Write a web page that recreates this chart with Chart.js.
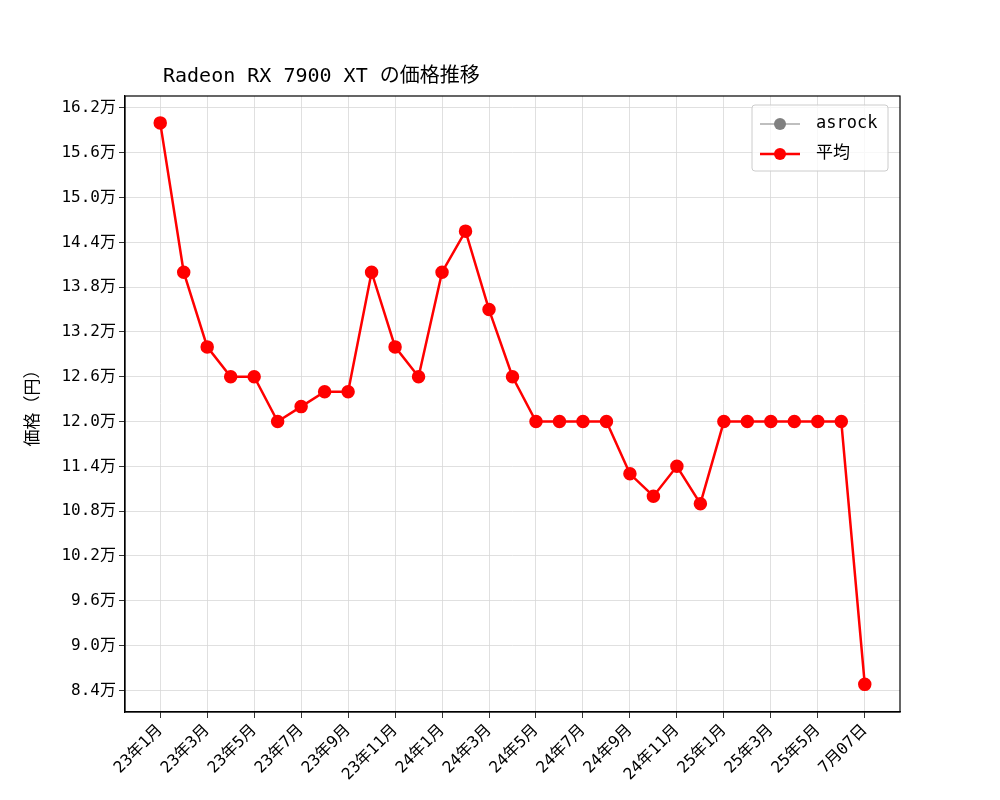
<!DOCTYPE html>
<html><head><meta charset="utf-8">
<script src="https://cdn.jsdelivr.net/npm/chart.js@4"></script>
<style>body{margin:0;background:#fff}</style>
</head><body>
<canvas id="c" width="1000" height="800"></canvas>
<script>
const tickLabels = ['23年1月','23年3月','23年5月','23年7月','23年9月','23年11月','24年1月','24年3月','24年5月','24年7月','24年9月','24年11月','25年1月','25年3月','25年5月','7月07日'];
const avgPrices = [160000,140000,130000,126000,126000,120000,122000,124000,124000,140000,130000,126000,140000,145500,135000,126000,
  120000,120000,120000,120000,113000,110000,114000,109000,120000,120000,120000,120000,120000,120000,84800];
const asrockPrices = [];
const FONT = '"DejaVu Sans Mono", "Noto Sans CJK JP", monospace';

// title, frame, y label and legend, matplotlib style
const extras = {
  id: 'extras',
  afterDraw(chart) {
    const ctx = chart.ctx, a = chart.chartArea;
    ctx.save();
    ctx.strokeStyle = '#000'; ctx.lineWidth = 1.2;
    ctx.strokeRect(a.left, a.top, a.right - a.left, a.bottom - a.top);
    ctx.fillStyle = '#000';
    ctx.font = '20px ' + FONT;
    ctx.textBaseline = 'alphabetic';
    ctx.fillText('Radeon RX 7900 XT の価格推移', 163, 82);
    ctx.save();
    ctx.translate(34, (a.top + a.bottom) / 2);
    ctx.rotate(-Math.PI / 2);
    ctx.textAlign = 'center'; ctx.textBaseline = 'middle';
    ctx.font = '17px ' + FONT;
    ctx.fillText('価格（円）', 0, 0);
    ctx.restore();
    // legend box
    const bx = a.right - 148, by = a.top + 9, bw = 136, bh = 66;
    ctx.fillStyle = 'rgba(255,255,255,0.8)';
    ctx.strokeStyle = '#ccc';
    ctx.lineWidth = 1;
    ctx.beginPath(); ctx.roundRect(bx, by, bw, bh, 3); ctx.fill(); ctx.stroke();
    const items = [['asrock', 'gray', 1.2], ['平均', 'red', 2.5]];
    items.forEach((it, i) => {
      const y = by + 19 + i * 30;
      ctx.strokeStyle = it[1]; ctx.lineWidth = it[2];
      ctx.beginPath(); ctx.moveTo(bx + 8, y); ctx.lineTo(bx + 48, y); ctx.stroke();
      ctx.fillStyle = it[1];
      ctx.beginPath(); ctx.arc(bx + 28, y, 6, 0, Math.PI * 2); ctx.fill();
      ctx.fillStyle = '#000'; ctx.font = '17px ' + FONT; ctx.textBaseline = 'middle';
      ctx.fillText(it[0], bx + 64, y);
    });
    ctx.restore();
  }
};

new Chart(document.getElementById('c'), {
  type: 'line',
  data: {
    datasets: [
      { label: 'asrock', data: asrockPrices, borderColor: 'gray', backgroundColor: 'gray', borderWidth: 1.2, pointRadius: 6 },
      { label: '平均', data: avgPrices.map((v, i) => ({ x: i, y: v })), borderColor: 'red', backgroundColor: 'red',
        borderWidth: 2.5, pointRadius: 5.5, pointHoverRadius: 5.5, tension: 0 }
    ]
  },
  options: {
    responsive: false,
    animation: false,
    layout: { padding: { left: 0, right: 100, top: 96, bottom: 0 } },
    plugins: { legend: { display: false }, tooltip: { enabled: false } },
    scales: {
      x: {
        type: 'linear', min: -1.5, max: 31.5,
        afterBuildTicks(s) { s.ticks = tickLabels.map((_, i) => ({ value: i * 2 })); },
        afterFit(s) { s.height = 88; },
        ticks: { callback: (v) => tickLabels[v / 2], color: '#000', font: { family: FONT, size: 16 },
          minRotation: 45, maxRotation: 45, autoSkip: false },
        grid: { color: '#d8d8d8', lineWidth: 0.8, tickColor: '#000', tickLength: 6 },
        border: { color: '#000', width: 1.2 }
      },
      y: {
        min: 81100, max: 163600,
        afterBuildTicks(s) { const t = []; for (let v = 84000; v <= 162000; v += 6000) t.push({ value: v }); s.ticks = t; },
        afterFit(s) { s.width = 125; },
        ticks: { callback: (v) => (v / 10000).toFixed(1) + '万', color: '#000', font: { family: FONT, size: 16 } },
        grid: { color: '#d8d8d8', lineWidth: 0.8, tickColor: '#000', tickLength: 6 },
        border: { color: '#000', width: 1.2 }
      }
    }
  },
  plugins: [extras]
});
</script>
</body></html>
